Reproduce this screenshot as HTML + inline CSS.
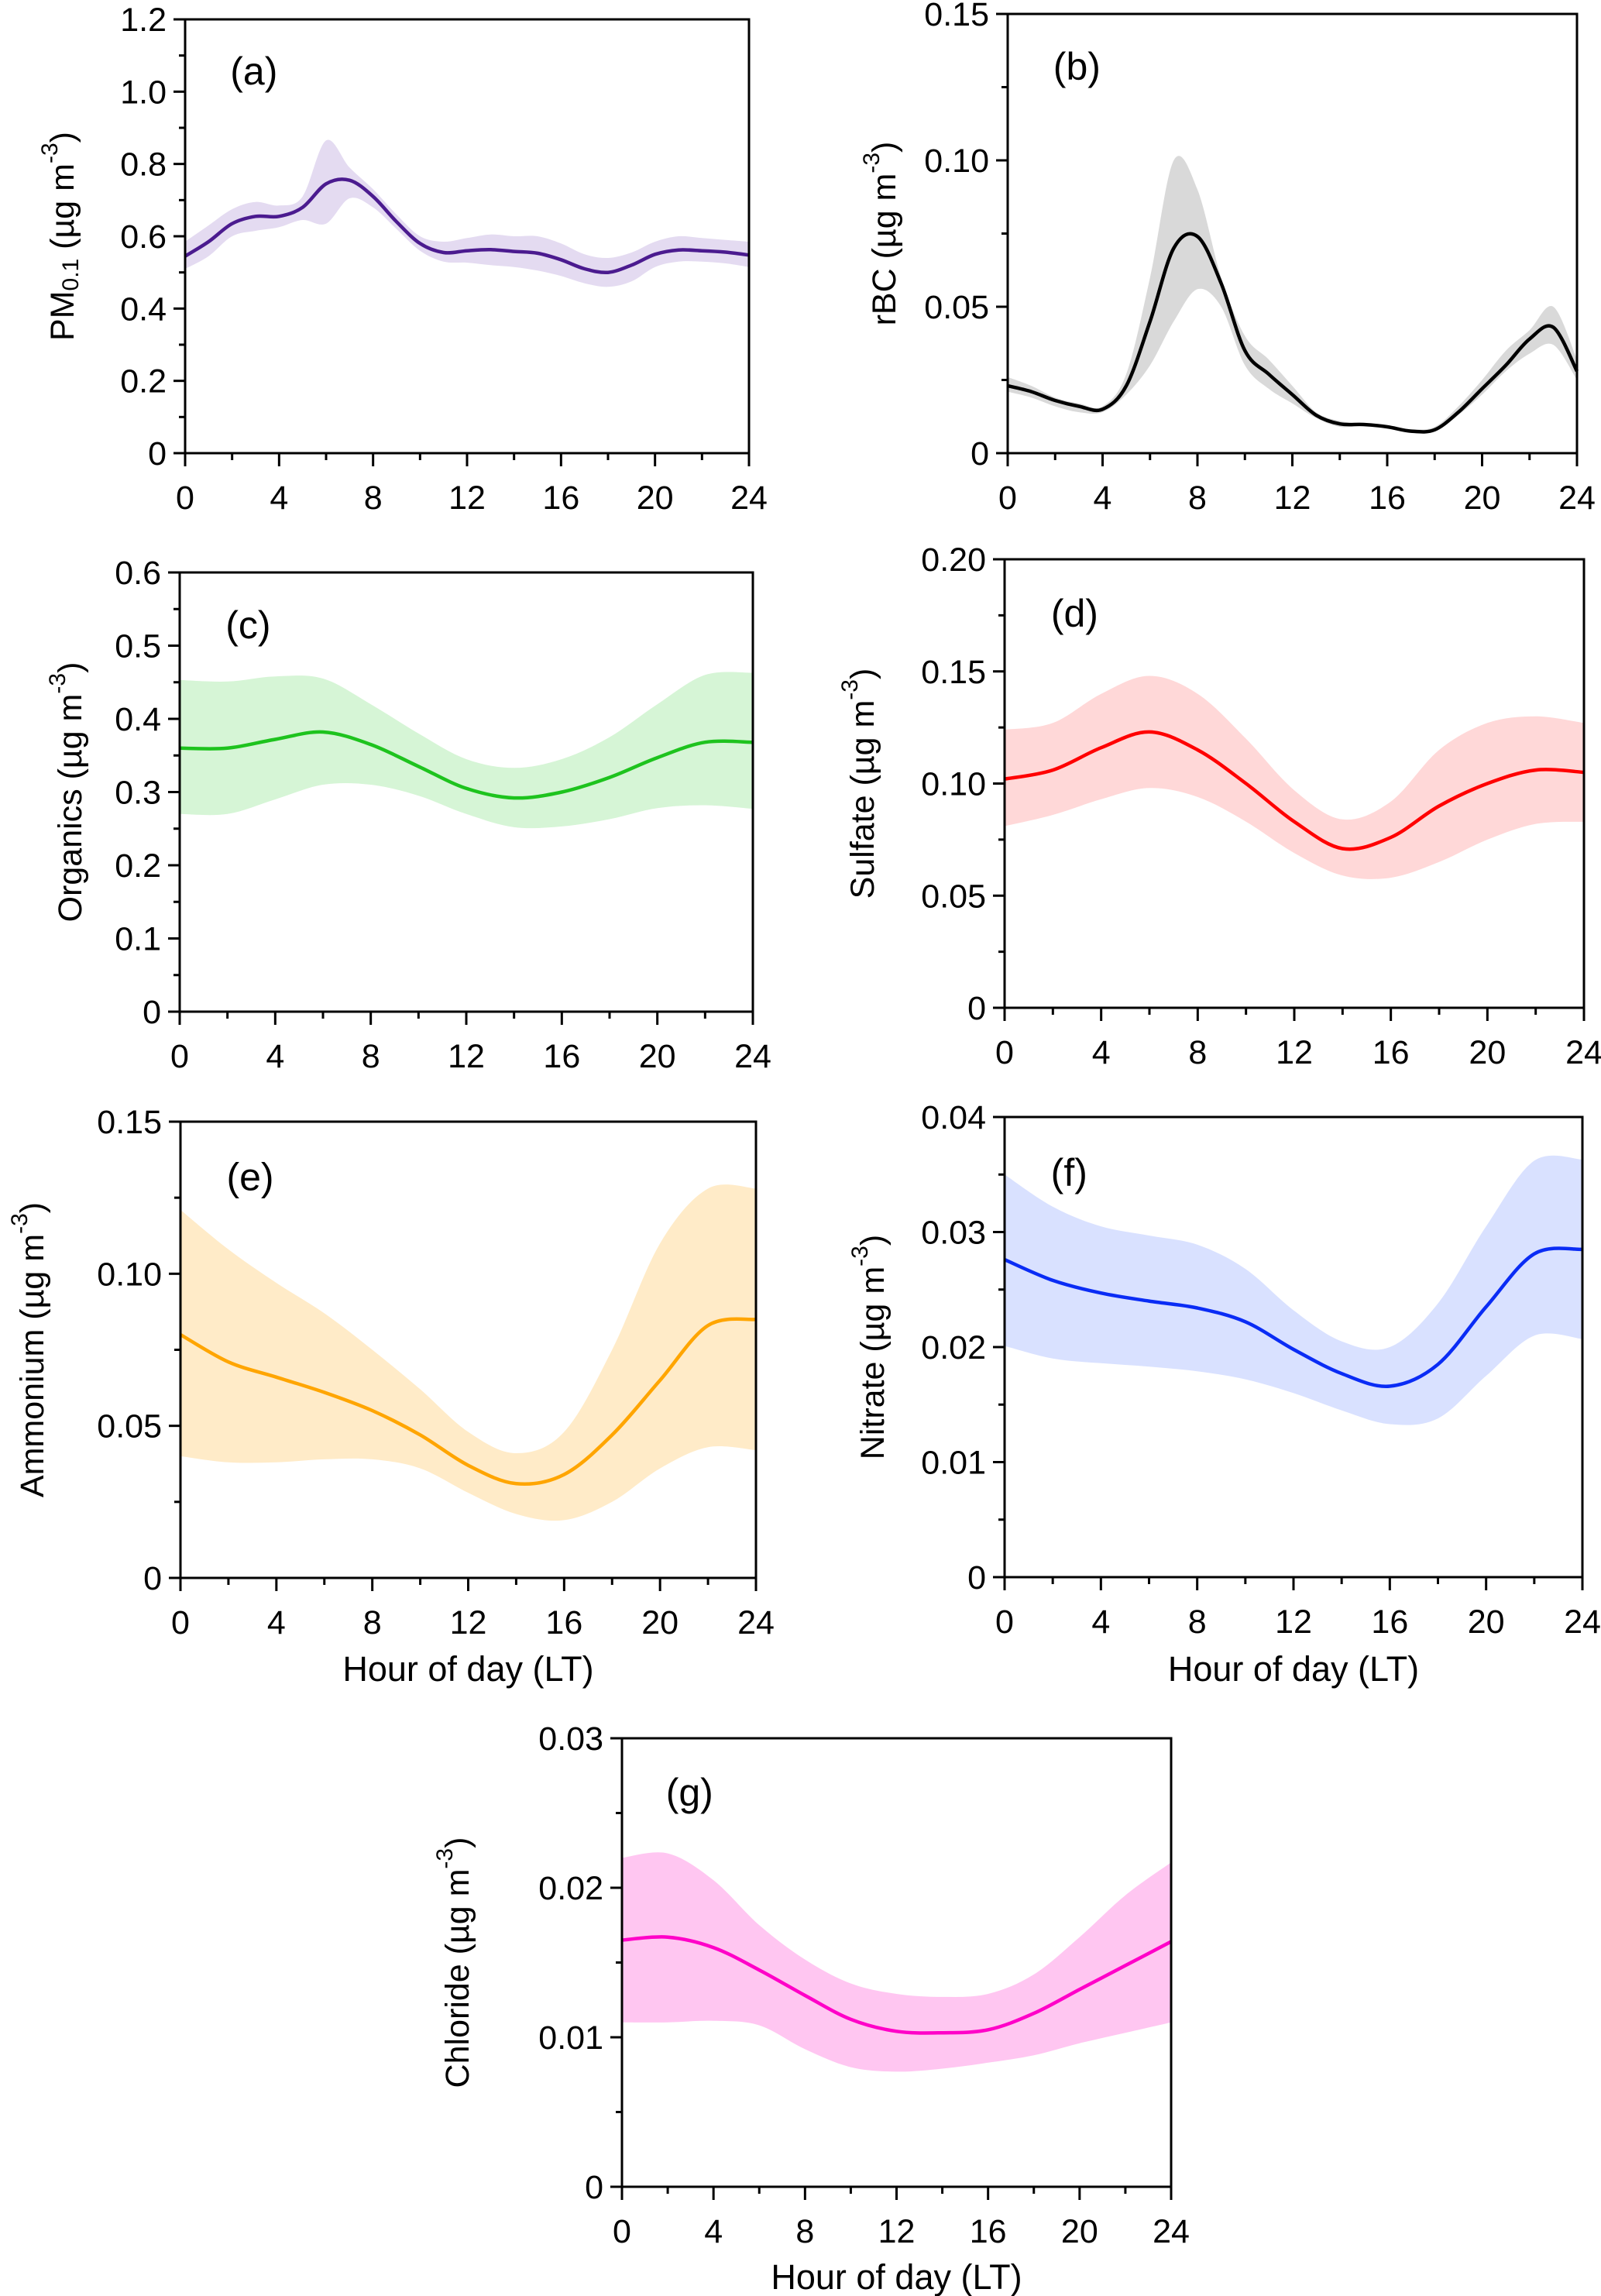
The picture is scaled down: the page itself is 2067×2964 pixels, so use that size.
<!DOCTYPE html>
<html><head><meta charset="utf-8">
<style>
html,body{margin:0;padding:0;background:#fff;}
svg{display:block;}
text{font-family:"Liberation Sans Narrow","Liberation Sans",sans-serif;fill:#000;}
.title{font-family:"Liberation Sans",sans-serif;}
</style></head>
<body>
<svg id="fig" width="2067" height="2964" viewBox="0 0 2067 2964" xmlns="http://www.w3.org/2000/svg"></svg>
<script>
// ---- data ----
const hoursA = [0,1,2,3,4,5,6,7,8,9,10,11,12,13,14,15,16,17,18,19,20,21,22,23,24];
const pmMean = [0.545,0.585,0.635,0.655,0.655,0.68,0.745,0.755,0.71,0.64,0.58,0.555,0.56,0.563,0.558,0.553,0.535,0.51,0.50,0.52,0.55,0.562,0.56,0.556,0.548];
const pmUpper = [0.585,0.63,0.675,0.695,0.685,0.71,0.865,0.79,0.73,0.66,0.6,0.585,0.595,0.605,0.6,0.6,0.58,0.55,0.54,0.555,0.585,0.6,0.595,0.59,0.585];
const pmLower = [0.51,0.545,0.6,0.615,0.625,0.645,0.635,0.705,0.68,0.62,0.56,0.53,0.527,0.52,0.515,0.505,0.49,0.47,0.46,0.475,0.515,0.53,0.53,0.525,0.515];
const bcMean = [0.023,0.021,0.018,0.016,0.015,0.023,0.045,0.07,0.074,0.058,0.035,0.027,0.02,0.013,0.01,0.0098,0.009,0.0075,0.008,0.014,0.022,0.03,0.039,0.043,0.028];
const bcUpper = [0.026,0.023,0.019,0.017,0.016,0.027,0.06,0.1,0.09,0.06,0.04,0.032,0.023,0.014,0.011,0.01,0.0095,0.0082,0.009,0.016,0.025,0.035,0.042,0.05,0.032];
const bcLower = [0.021,0.019,0.016,0.014,0.014,0.02,0.03,0.045,0.056,0.05,0.03,0.022,0.017,0.012,0.009,0.0093,0.0085,0.0072,0.0075,0.013,0.02,0.028,0.034,0.037,0.025];
const hoursB = [0,2,4,6,8,10,12,14,16,18,20,22,24];
const orgMean = [0.36,0.36,0.372,0.382,0.365,0.335,0.305,0.292,0.3,0.32,0.347,0.368,0.368];
const orgUpper = [0.453,0.451,0.458,0.455,0.42,0.38,0.345,0.333,0.345,0.375,0.42,0.46,0.463];
const orgLower = [0.27,0.27,0.29,0.31,0.31,0.295,0.27,0.252,0.253,0.263,0.278,0.282,0.277];
const so4Mean = [0.102,0.106,0.116,0.123,0.115,0.1,0.083,0.071,0.076,0.09,0.1,0.106,0.105];
const so4Upper = [0.124,0.127,0.14,0.148,0.14,0.12,0.097,0.084,0.092,0.115,0.127,0.13,0.127];
const so4Lower = [0.081,0.086,0.093,0.098,0.094,0.083,0.069,0.059,0.058,0.065,0.075,0.082,0.083];
const nh4Mean = [0.08,0.071,0.066,0.061,0.055,0.047,0.037,0.031,0.034,0.047,0.065,0.083,0.085];
const nh4Upper = [0.121,0.108,0.097,0.087,0.075,0.062,0.048,0.041,0.048,0.075,0.11,0.128,0.128];
const nh4Lower = [0.04,0.038,0.038,0.039,0.039,0.036,0.028,0.021,0.019,0.025,0.036,0.043,0.042];
const no3Mean = [0.0276,0.0258,0.0247,0.024,0.0234,0.0222,0.0198,0.0177,0.0166,0.0185,0.0235,0.0281,0.0285];
const no3Upper = [0.035,0.0322,0.0305,0.0297,0.0289,0.0268,0.0232,0.0205,0.02,0.0238,0.0305,0.0362,0.0363];
const no3Lower = [0.0201,0.019,0.0186,0.0183,0.0179,0.0172,0.016,0.0145,0.0133,0.0138,0.0175,0.021,0.0207];
const chlMean = [0.0165,0.0167,0.016,0.0145,0.0128,0.0112,0.0104,0.0103,0.0105,0.0116,0.0132,0.0148,0.0164];
const chlUpper = [0.022,0.0223,0.0205,0.0175,0.0152,0.0136,0.0129,0.0127,0.0129,0.0142,0.0167,0.0195,0.0217];
const chlLower = [0.011,0.011,0.0111,0.0108,0.0092,0.008,0.0077,0.0079,0.0083,0.0088,0.0096,0.0103,0.011];
const xTickLabels = ["0","4","8","12","16","20","24"];
const yTicksA = ["0","0.2","0.4","0.6","0.8","1.0","1.2"];
const yTicksB = ["0","0.05","0.10","0.15"];
const yTicksC = ["0","0.1","0.2","0.3","0.4","0.5","0.6"];
const yTicksD = ["0","0.05","0.10","0.15","0.20"];
const yTicksE = ["0","0.05","0.10","0.15"];
const yTicksF = ["0","0.01","0.02","0.03","0.04"];
const yTicksG = ["0","0.01","0.02","0.03"];

const NS="http://www.w3.org/2000/svg";
const svg=document.getElementById('fig');
function mk(tag,attrs,parent){const e=document.createElementNS(NS,tag);for(const k in attrs)e.setAttribute(k,attrs[k]);(parent||svg).appendChild(e);return e;}

function smooth(pts){
  let d="M"+pts[0][0].toFixed(1)+","+pts[0][1].toFixed(1);
  for(let i=0;i<pts.length-1;i++){
    const p0=pts[Math.max(i-1,0)],p1=pts[i],p2=pts[i+1],p3=pts[Math.min(i+2,pts.length-1)];
    const c1=[p1[0]+(p2[0]-p0[0])/6,p1[1]+(p2[1]-p0[1])/6];
    const c2=[p2[0]-(p3[0]-p1[0])/6,p2[1]-(p3[1]-p1[1])/6];
    d+=" C"+c1[0].toFixed(1)+","+c1[1].toFixed(1)+" "+c2[0].toFixed(1)+","+c2[1].toFixed(1)+" "+p2[0].toFixed(1)+","+p2[1].toFixed(1);
  }
  return d;
}

function panel(p){
  const g=mk('g',{});
  
  
  const xs=h=>p.x0+(p.x1-p.x0)*h/24;
  const ys=v=>p.y0-(p.y0-p.y1)*v/p.ymax;
  const up=p.hours.map((h,i)=>[xs(h),ys(p.upper[i])]);
  const lo=p.hours.map((h,i)=>[xs(h),ys(p.lower[i])]).reverse();
  let dUp=smooth(up), dLo=smooth(lo).replace(/^M/,"L");
  const band=mk('path',{d:dUp+" "+dLo+" Z",fill:p.band,stroke:'none'},g);
  
  
  const line=mk('path',{d:smooth(p.hours.map((h,i)=>[xs(h),ys(p.mean[i])])),fill:'none',stroke:p.color,'stroke-width':4.5},g);
  
  
  const fr=mk('rect',{x:p.x0,y:p.y1,width:p.x1-p.x0,height:p.y0-p.y1,fill:'none',stroke:'#000','stroke-width':3},g);
  
  
  for(let h=0;h<=24;h+=2){
    const major=h%4===0;
    const t=mk('line',{x1:xs(h),x2:xs(h),y1:p.y0,y2:p.y0+(major?17:9),stroke:'#000','stroke-width':3},g);
    
    
  }
  xTickLabels.forEach((lab,i)=>{
    const t=mk('text',{x:xs(i*4),y:p.y0+72,'text-anchor':'middle','font-size':43},g);
    t.textContent=lab;
    
    
  });
  const n=p.yticks.length-1, step=p.ymax/n;
  for(let k=0;k<=2*n;k++){
    const v=k*step/2, major=k%2===0;
    const t=mk('line',{x1:p.x0,x2:p.x0-(major?15:8),y1:ys(v),y2:ys(v),stroke:'#000','stroke-width':3},g);
    
    
  }
  p.yticks.forEach((lab,i)=>{
    const t=mk('text',{x:p.x0-24,y:ys(i*step)+15,'text-anchor':'end','font-size':43},g);
    t.textContent=lab;
    
    
  });
  const pl=mk('text',{x:p.x0+(p.x1-p.x0)*0.08,y:p.y1+(p.y0-p.y1)*0.15,'font-size':50},g);
  pl.textContent='('+p.id+')';
  
  
  const cy=(p.y0+p.y1)/2 + (p.titleShift||0);
  const yt=mk('text',{x:p.tx,y:cy,'text-anchor':'middle','dominant-baseline':'central','font-size':43,'class':'title',transform:'rotate(-90 '+p.tx+' '+cy+')'},g);
  yt.innerHTML=p.title;
  
  
  if(p.xtitle){
    const xt=mk('text',{x:(p.x0+p.x1)/2,y:p.y0+p.xtitle,'text-anchor':'middle','font-size':45,'class':'title'},g);
    xt.textContent='Hour of day (LT)';
    
    
  }
}
const unit='(µg m<tspan dy="-17" font-size="30">-3</tspan><tspan dy="17">)</tspan>';
panel({id:'a',x0:239,x1:967,y0:585,y1:25,ymax:1.2,yticks:yTicksA,hours:hoursA,mean:pmMean,upper:pmUpper,lower:pmLower,color:'#4b1b8f',band:'#e4dbf1',tx:81,title:'PM<tspan dy="10" font-size="30">0.1</tspan><tspan dy="-10"> </tspan>'+unit});
panel({id:'b',x0:1301,x1:2036,y0:585,y1:18,ymax:0.15,yticks:yTicksB,hours:hoursA,mean:bcMean,upper:bcUpper,lower:bcLower,color:'#000',band:'#d9d9d9',tx:1142,title:'rBC '+unit});
panel({id:'c',x0:232,x1:972,y0:1306,y1:739,ymax:0.6,yticks:yTicksC,hours:hoursB,mean:orgMean,upper:orgUpper,lower:orgLower,color:'#1ec31e',band:'#d6f5d6',tx:91,title:'Organics '+unit});
panel({id:'d',x0:1297,x1:2045,y0:1301,y1:722,ymax:0.2,yticks:yTicksD,hours:hoursB,mean:so4Mean,upper:so4Upper,lower:so4Lower,color:'#ff0000',band:'#ffd8d8',tx:1114,title:'Sulfate '+unit});
panel({id:'e',x0:233,x1:976,y0:2037,y1:1448,ymax:0.15,yticks:yTicksE,hours:hoursB,mean:nh4Mean,upper:nh4Upper,lower:nh4Lower,color:'#ffa500',band:'#ffebc8',tx:42,title:'Ammonium '+unit,xtitle:133});
panel({id:'f',x0:1297,x1:2043,y0:2036,y1:1442,ymax:0.04,yticks:yTicksF,hours:hoursB,mean:no3Mean,upper:no3Upper,lower:no3Lower,color:'#0a2cf5',band:'#d9e1ff',tx:1127,title:'Nitrate '+unit,xtitle:134});
panel({id:'g',x0:803,x1:1512,y0:2823,y1:2244,ymax:0.03,yticks:yTicksG,hours:hoursB,mean:chlMean,upper:chlUpper,lower:chlLower,color:'#ff00c8',band:'#ffc6f1',tx:591,title:'Chloride '+unit,xtitle:132});
</script>
</body></html>
